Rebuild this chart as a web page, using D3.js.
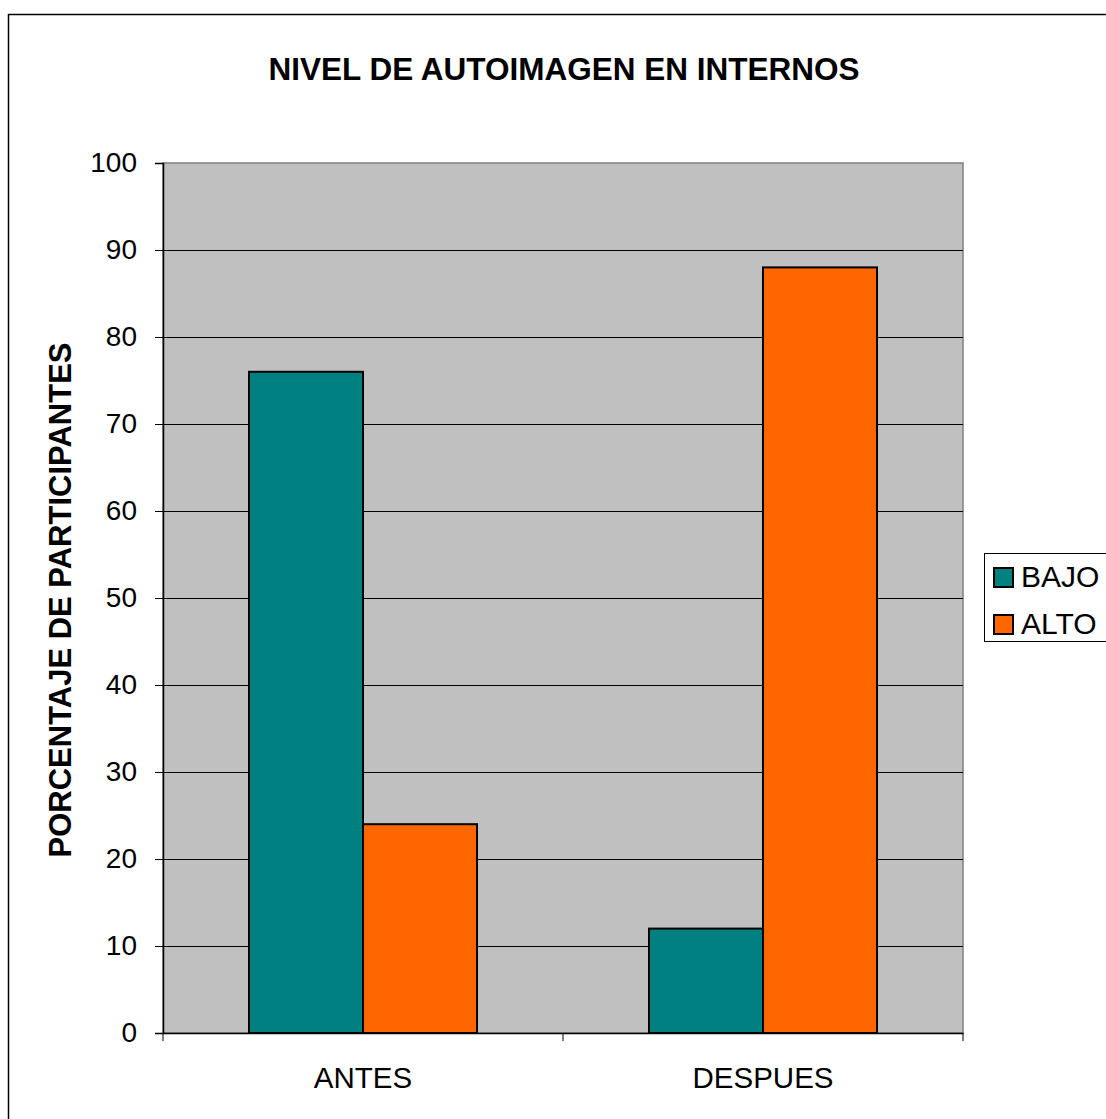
<!DOCTYPE html>
<html>
<head>
<meta charset="utf-8">
<script src="https://cdn.jsdelivr.net/npm/d3@7"></script>
<style>
  html, body { margin: 0; padding: 0; background: #fff; }
  svg { display: block; }
  text { font-family: "Liberation Sans", Arial, sans-serif; fill: #000; }
</style>
</head>
<body>
<svg id="chart" width="1106" height="1119"></svg>
<script>
// Chart data
const categories = ["ANTES", "DESPUES"];
const seriesNames = ["BAJO", "ALTO"];
const seriesColors = ["#008080", "#FF6600"];
const bajoValues = [76, 12];
const altoValues = [24, 88];
const yTicks = [0, 10, 20, 30, 40, 50, 60, 70, 80, 90, 100];
const titleText = "NIVEL DE AUTOIMAGEN EN INTERNOS";
const yTitleText = "PORCENTAJE DE PARTICIPANTES";

const seriesValues = [bajoValues, altoValues];

const svg = d3.select("#chart");
const W = 1106, H = 1119;

// Outer frame (runs off the right and bottom edges)
svg.append("rect")
  .attr("x", 8.5).attr("y", 14.5)
  .attr("width", W).attr("height", H)
  .attr("fill", "#fff").attr("stroke", "#000").attr("stroke-width", 1.5);

const plot = { left: 163, right: 963, top: 163, bottom: 1033 };

const x0 = d3.scaleBand().domain(categories).range([plot.left, plot.right]).paddingInner(0).paddingOuter(0);
const barW = x0.bandwidth() * 0.285;
const y = d3.scaleLinear().domain([0, 100]).range([plot.bottom, plot.top]);

// Plot background
svg.append("rect")
  .attr("x", plot.left).attr("y", plot.top)
  .attr("width", plot.right - plot.left).attr("height", plot.bottom - plot.top)
  .attr("fill", "#C0C0C0")
  .attr("stroke", "#808080").attr("stroke-width", 1.5);

// Horizontal gridlines
svg.append("g").selectAll("line")
  .data(yTicks.filter(t => t > 0 && t < 100))
  .join("line")
  .attr("x1", plot.left).attr("x2", plot.right)
  .attr("y1", d => y(d) + 0.5).attr("y2", d => y(d) + 0.5)
  .attr("stroke", "#000").attr("stroke-width", 1);

// Bars
const groups = svg.append("g").selectAll("g")
  .data(categories)
  .join("g");

groups.each(function(cat, ci) {
  const cx = x0(cat) + x0.bandwidth() / 2;
  d3.select(this).selectAll("rect")
    .data(seriesValues.map((vals, si) => ({ si, v: vals[ci] })))
    .join("rect")
    .attr("x", d => cx - barW + d.si * barW)
    .attr("y", d => y(d.v))
    .attr("width", barW)
    .attr("height", d => y(0) - y(d.v))
    .attr("fill", d => seriesColors[d.si])
    .attr("stroke", "#000").attr("stroke-width", 2);
});

// Y axis
const yAxis = d3.axisLeft(y).tickValues(yTicks).tickSize(8).tickPadding(18).tickFormat(d3.format("d"));
const yg = svg.append("g").attr("transform", `translate(${plot.left},0)`).call(yAxis);
yg.select(".domain").attr("stroke", "#000").attr("stroke-width", 1.5);
yg.selectAll(".tick line").attr("stroke", "#000");
yg.selectAll(".tick text")
  .style("font-family", "'Liberation Sans', Arial, sans-serif")
  .style("font-size", "28px").attr("fill", "#000");

// X axis
const xAxis = d3.axisBottom(x0).tickSize(0).tickPadding(34);
const xg = svg.append("g").attr("transform", `translate(0,${plot.bottom})`).call(xAxis);
xg.select(".domain").attr("stroke", "#000").attr("stroke-width", 1.5);
xg.selectAll(".tick text")
  .style("font-family", "'Liberation Sans', Arial, sans-serif")
  .style("font-size", "29.5px").attr("fill", "#000");
// Category boundary ticks
svg.append("g").selectAll("line")
  .data([plot.left, x0("DESPUES"), plot.right])
  .join("line")
  .attr("x1", d => d).attr("x2", d => d)
  .attr("y1", plot.bottom).attr("y2", plot.bottom + 8)
  .attr("stroke", "#000");

// Title
svg.append("text")
  .attr("x", 564).attr("y", 80)
  .attr("text-anchor", "middle")
  .style("font-size", "31.5px").style("font-weight", "bold")
  .text(titleText);

// Y axis title
svg.append("text")
  .attr("transform", "translate(71,600) rotate(-90)")
  .attr("text-anchor", "middle")
  .style("font-size", "31px").style("font-weight", "bold")
  .text(yTitleText);

// Legend
const lg = svg.append("g");
lg.append("rect")
  .attr("x", 984.5).attr("y", 553.5)
  .attr("width", 140).attr("height", 88)
  .attr("fill", "#fff").attr("stroke", "#000").attr("stroke-width", 1);
const items = lg.selectAll("g.item")
  .data(seriesNames)
  .join("g").attr("class", "item")
  .attr("transform", (d, i) => `translate(0,${i * 47})`);
items.append("rect")
  .attr("x", 994).attr("y", 568)
  .attr("width", 19).attr("height", 19)
  .attr("fill", (d, i) => seriesColors[i])
  .attr("stroke", "#000").attr("stroke-width", 2);
items.append("text")
  .attr("x", 1021).attr("y", 587)
  .style("font-size", "30px")
  .text(d => d);
</script>
</body>
</html>
